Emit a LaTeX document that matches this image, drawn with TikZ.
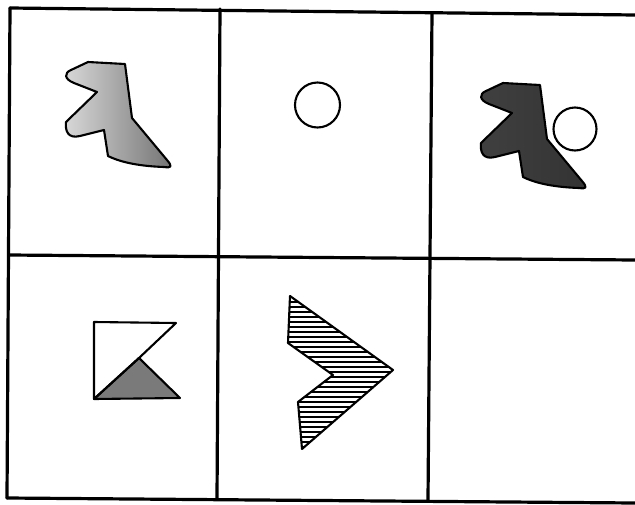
\documentclass[tikz,border=0pt]{standalone}
\begin{document}
\begin{tikzpicture}[x=1pt,y=-1pt,
  gridline/.style={line width=3.2pt,line cap=round},
  outline/.style={line width=2.1pt,line join=round},
  hatchline/.style={line width=2.1pt}]
\useasboundingbox (0,0) rectangle (635,504);
% grid
\coordinate (tl) at (10,8);   \coordinate (tr) at (635,15);
\coordinate (ml) at (9,255);  \coordinate (mr) at (635,260);
\coordinate (bl) at (7,498);  \coordinate (br) at (635,503);
\coordinate (c1t) at (220,9); \coordinate (c1b) at (217,499);
\coordinate (c2t) at (432,13);\coordinate (c2b) at (428,500);
\draw[gridline] (tl) -- (tr);
\draw[gridline] (ml) -- (mr);
\draw[gridline] (bl) -- (br);
\draw[gridline] (tl) -- (bl);
\draw[gridline] (c1t) -- (c1b);
\draw[gridline] (c2t) -- (c2b);
% bird-like shape
\def\birdpath{(88,62) -- (125,64) -- (132,118) -- (167,160)
  .. controls (173,167) and (171,168) .. (164,167)
  .. controls (135,166) and (118,161) .. (108,156) -- (104,130) -- (80,136)
  .. controls (68,139) and (65,131) .. (66,122) -- (97,92) -- (74,83)
  .. controls (64,79) and (64,73) .. (71,70) -- cycle}
% cell 1
\path[left color=black!15,middle color=black!42,right color=black!55] \birdpath;
\draw[outline] \birdpath;
% cell 2
\draw[outline] (317.5,105) circle[radius=22.5];
% cell 3
\begin{scope}[shift={(415,21)}]
\path[left color=black!75,middle color=black!58,right color=black!80] \birdpath;
\draw[outline] \birdpath;
\end{scope}
\draw[outline,fill=white] (575,129) circle[radius=21.5];
% cell 4
\coordinate (s1) at (94,322); \coordinate (s2) at (176,323);
\coordinate (s3) at (139,358); \coordinate (s4) at (94,399);
\coordinate (s5) at (180,398);
\fill[black!52] (s4) -- (s3) -- (s5) -- cycle;
\draw[outline] (s1) -- (s2) -- (s3) -- (s4) -- cycle;
\draw[outline] (s4) -- (s3) -- (s5) -- cycle;
% cell 5 chevron
\def\chevpath{(290,296) -- (393,370) -- (302,449) -- (298,402) -- (333,375) -- (288,343) -- cycle}
\begin{scope}
\clip \chevpath;
\foreach \yy in {297,302,...,452} \draw[hatchline] (280,\yy) -- (400,\yy);
\end{scope}
\draw[outline] \chevpath;
\end{tikzpicture}
\end{document}
